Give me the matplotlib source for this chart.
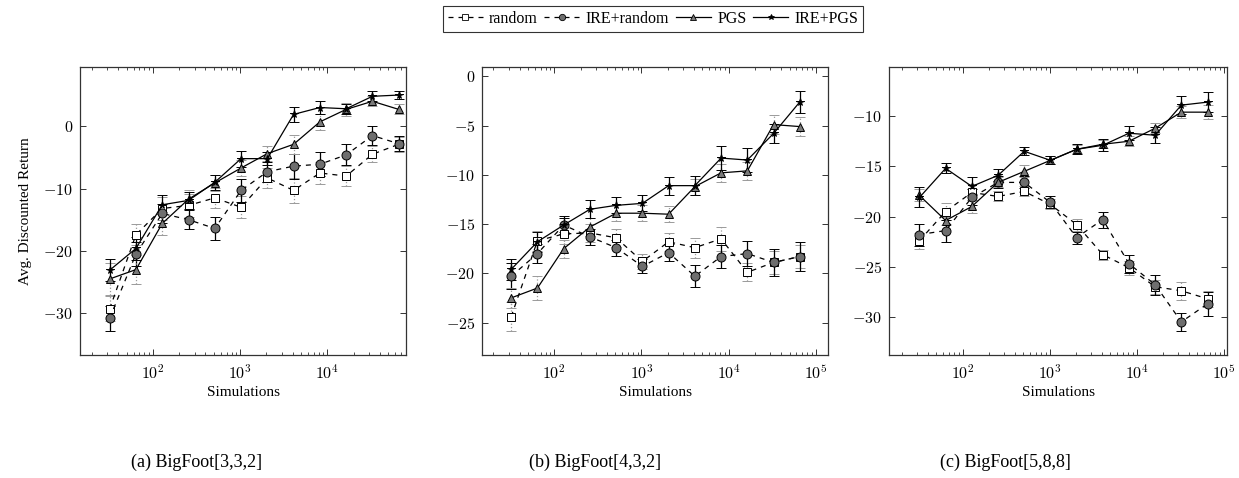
import numpy as np
import matplotlib
matplotlib.use("Agg")
import matplotlib.pyplot as plt
from matplotlib.ticker import LogLocator, FuncFormatter, FixedLocator, NullLocator
from matplotlib.lines import Line2D

plt.rcParams['mathtext.fontset'] = 'cm'
plt.rcParams['font.family'] = ['Liberation Serif', 'DejaVu Serif']

simulations = [32, 64, 128, 256, 512, 1024, 2048, 4096, 8192, 16384, 32768, 65536]
series_names = ["random", "IRE+random", "PGS", "IRE+PGS"]
captions = ["(a) BigFoot[3,3,2]", "(b) BigFoot[4,3,2]", "(c) BigFoot[5,8,8]"]

# Panel (a) BigFoot[3,3,2]
a_random = [-29.3, -17.4, -13.2, -12.7, -11.5, -13.0, -8.3, -10.3, -7.5, -8.0, -4.5, -2.9]
a_random_err = [2.0, 1.7, 1.8, 1.8, 1.6, 1.8, 1.6, 2.0, 1.7, 1.6, 1.3, 1.2]
a_ire_random = [-30.8, -20.5, -14.0, -15.0, -16.4, -10.3, -7.3, -6.4, -6.1, -4.6, -1.5, -2.8]
a_ire_random_err = [2.0, 1.9, 1.6, 1.5, 1.9, 1.9, 1.6, 2.0, 1.9, 1.7, 1.5, 1.2]
a_pgs = [-24.5, -23.0, -15.6, -11.7, -9.1, -6.7, -4.4, -2.9, 0.7, 2.7, 4.0, 2.7]
a_pgs_err = [2.5, 2.3, 1.8, 1.5, 1.3, 1.3, 1.2, 1.5, 1.3, 1.0, 0.8, 0.8]
a_ire_pgs = [-23.1, -19.6, -12.6, -11.9, -9.0, -5.2, -5.2, 1.9, 3.0, 2.8, 4.8, 5.0]
a_ire_pgs_err = [1.8, 1.8, 1.5, 1.4, 1.2, 1.3, 1.0, 1.2, 1.0, 0.8, 0.8, 0.7]

# Panel (b) BigFoot[4,3,2]
b_random = [-24.4, -16.7, -16.0, -15.9, -16.4, -18.8, -16.8, -17.4, -16.5, -19.9, -18.9, -18.3]
b_random_err = [1.5, 1.0, 1.0, 0.9, 0.9, 0.8, 0.9, 1.0, 1.2, 0.9, 1.2, 1.2]
b_ire_random = [-20.3, -18.0, -15.1, -16.3, -17.4, -19.3, -17.9, -20.3, -18.3, -18.0, -18.9, -18.3]
b_ire_random_err = [1.3, 1.0, 0.9, 0.8, 0.8, 0.7, 0.9, 1.1, 1.2, 1.3, 1.4, 1.5]
b_pgs = [-22.5, -21.5, -17.5, -15.3, -13.9, -13.9, -14.0, -11.2, -9.8, -9.6, -4.9, -5.1]
b_pgs_err = [1.0, 1.2, 0.9, 0.9, 0.8, 0.8, 0.8, 0.8, 0.9, 0.9, 1.0, 1.0]
b_ire_pgs = [-19.6, -16.8, -15.1, -13.5, -13.1, -12.9, -11.1, -11.1, -8.3, -8.5, -5.8, -2.6]
b_ire_pgs_err = [1.1, 1.0, 0.7, 0.9, 0.8, 0.8, 0.9, 1.0, 1.2, 1.2, 1.0, 1.1]

# Panel (c) BigFoot[5,8,8]
c_random = [-22.4, -19.5, -17.6, -18.0, -17.5, -18.8, -20.8, -23.8, -25.1, -27.0, -27.4, -28.2]
c_random_err = [0.8, 0.8, 0.8, 0.5, 0.5, 0.5, 0.6, 0.5, 0.7, 0.7, 0.9, 0.8]
c_ire_random = [-21.8, -21.4, -18.1, -16.6, -16.6, -18.6, -22.1, -20.3, -24.7, -26.8, -30.5, -28.7]
c_ire_random_err = [1.1, 1.1, 0.8, 0.6, 0.6, 0.6, 0.6, 0.8, 0.9, 1.0, 0.9, 1.2]
c_pgs = [-17.9, -20.4, -19.0, -16.6, -15.5, -14.4, -13.3, -12.8, -12.5, -11.2, -9.6, -9.6]
c_pgs_err = [0.6, 0.4, 0.6, 0.5, 0.6, 0.4, 0.4, 0.4, 0.5, 0.5, 0.6, 0.7]
c_ire_pgs = [-18.1, -15.2, -17.0, -15.9, -13.5, -14.4, -13.3, -12.9, -11.7, -11.9, -8.9, -8.6]
c_ire_pgs_err = [1.0, 0.5, 0.9, 0.6, 0.4, 0.4, 0.5, 0.6, 0.7, 0.8, 0.9, 1.0]

panels = [
    dict(data=[(a_random, a_random_err), (a_ire_random, a_ire_random_err),
               (a_pgs, a_pgs_err), (a_ire_pgs, a_ire_pgs_err)],
         yticks=[-30, -20, -10, 0], ylim=(-36.7, 9.5), xlim=(10**1.165, 10**4.9),
         px=(80, 406)),
    dict(data=[(b_random, b_random_err), (b_ire_random, b_ire_random_err),
               (b_pgs, b_pgs_err), (b_ire_pgs, b_ire_pgs_err)],
         yticks=[-25, -20, -15, -10, -5, 0], ylim=(-28.3, 0.95), xlim=(10**1.17, 10**5.14),
         px=(482, 828)),
    dict(data=[(c_random, c_random_err), (c_ire_random, c_ire_random_err),
               (c_pgs, c_pgs_err), (c_ire_pgs, c_ire_pgs_err)],
         yticks=[-30, -25, -20, -15, -10], ylim=(-33.8, -5.1), xlim=(10**1.155, 10**5.04),
         px=(889, 1227)),
]

styles = [
    dict(ls=(0, (4, 4)), marker='s', mfc='white', ms=6.0, ebc='#9a9a9a', ebls=':'),
    dict(ls=(0, (4, 4)), marker='o', mfc='#6e6e6e', ms=6.5, ebc='black', ebls='-'),
    dict(ls='-', marker='^', mfc='#7a7a7a', ms=5.5, ebc='#9a9a9a', ebls=':'),
    dict(ls='-', marker='*', mfc='black', ms=5.5, ebc='black', ebls='-'),
]

W, H = 1239, 478
fig = plt.figure(figsize=(W / 100, H / 100), dpi=100)
top_px, bot_px = 67, 355
frame_col = '#333333'

for i, p in enumerate(panels):
    l, r = p['px']
    ax = fig.add_axes([l / W, 1 - bot_px / H, (r - l) / W, (bot_px - top_px) / H])
    for (vals, errs), st in zip(p['data'], styles):
        cont = ax.errorbar(simulations, vals, yerr=errs, color='black', lw=0.9,
                           ls=st['ls'], marker=st['marker'], mfc=st['mfc'], mec='black',
                           mew=0.7, ms=st['ms'], ecolor=st['ebc'], elinewidth=0.9,
                           capsize=3.5, capthick=0.9, zorder=3)
        for bc in cont[2]:
            bc.set_linestyle(st['ebls'])
    ax.set_xscale('log')
    ax.set_xlim(*p['xlim'])
    ax.set_ylim(*p['ylim'])
    ax.xaxis.set_major_locator(LogLocator(base=10, numticks=10))
    ax.xaxis.set_minor_locator(LogLocator(base=10, subs=np.arange(2, 10), numticks=20))
    ax.xaxis.set_major_formatter(FuncFormatter(lambda v, pos: r'$10^{%d}$' % round(np.log10(v))))
    ax.yaxis.set_major_locator(FixedLocator(p['yticks']))
    ax.yaxis.set_minor_locator(NullLocator())
    ax.yaxis.set_major_formatter(FuncFormatter(lambda v, pos: r'$%d$' % round(v)))
    ax.tick_params(which='both', direction='in', top=True, right=True, color=frame_col,
                   labelsize=11.5)
    ax.tick_params(which='major', length=4.5, width=0.7)
    ax.tick_params(which='minor', length=2.5, width=0.6)
    ax.tick_params(axis='x', pad=7)
    ax.tick_params(axis='y', pad=5)
    for s in ax.spines.values():
        s.set_color(frame_col)
        s.set_linewidth(0.9)
    ax.set_xlabel('Simulations', fontsize=11, labelpad=2)
    if i == 0:
        ax.set_ylabel('Avg. Discounted Return', fontsize=11, labelpad=8)

caption_x = [197, 595, 1005]
for cx, cap in zip(caption_x, captions):
    fig.text(cx / W, 1 - 462 / H, cap, ha='center', va='center', fontsize=13)

handles = []
for st, name in zip(styles, series_names):
    handles.append(Line2D([0], [0], color='black', lw=0.9, ls=st['ls'], marker=st['marker'],
                          mfc=st['mfc'], mec='black', mew=0.6, ms=st['ms'] * 0.7))
leg = fig.legend(handles, series_names, loc='center', bbox_to_anchor=(653 / W, 1 - 19 / H),
                 ncol=4, frameon=True, fancybox=False, edgecolor='black', fontsize=11.5,
                 handlelength=2.2, handletextpad=0.4, columnspacing=0.4, borderpad=0.3,
                 borderaxespad=0)
leg.get_frame().set_linewidth(0.8)

fig.savefig('out.png', dpi=100)
